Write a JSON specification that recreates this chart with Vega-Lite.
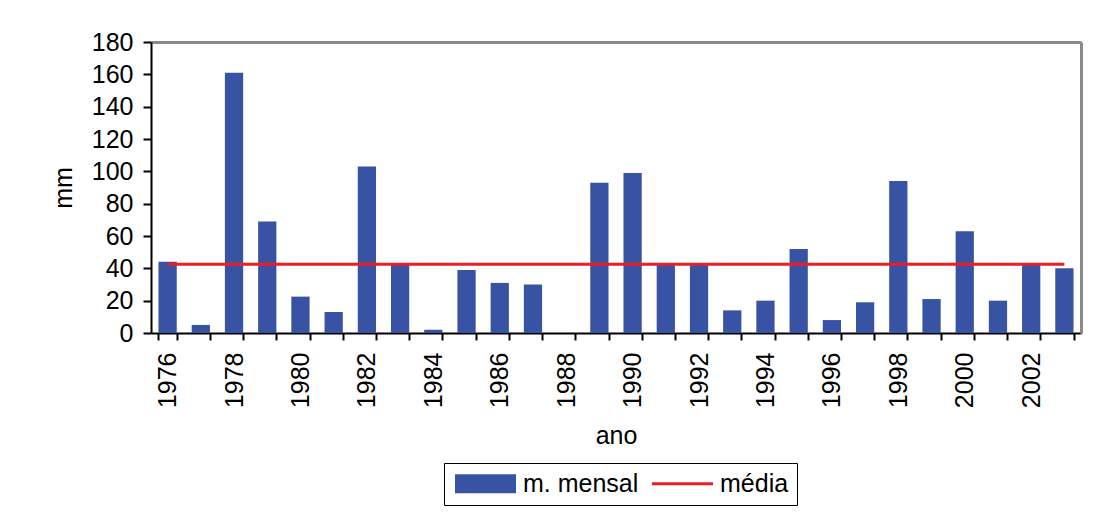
{
  "$schema": "https://vega.github.io/schema/vega-lite/v6.json",
  "width": 930,
  "height": 291,
  "autosize": {"type": "none"},
  "padding": {"left": 151, "top": 42, "right": 23, "bottom": 187},
  "background": "white",
  "config": {
    "view": {"stroke": null},
    "font": "Liberation Sans",
    "axis": {
      "grid": false,
      "domainColor": "black",
      "domainWidth": 2,
      "tickColor": "black",
      "tickWidth": 2,
      "tickSize": 8,
      "labelColor": "black",
      "labelFont": "Liberation Sans",
      "labelFontSize": 25,
      "titleColor": "black",
      "titleFont": "Liberation Sans",
      "titleFontSize": 25,
      "titleFontWeight": "normal"
    }
  },
  "data": {
    "values": [
      {"ano": 1976, "mm": 44, "media": 42.6},
      {"ano": 1977, "mm": 5, "media": 42.6},
      {"ano": 1978, "mm": 161, "media": 42.6},
      {"ano": 1979, "mm": 69, "media": 42.6},
      {"ano": 1980, "mm": 22.5, "media": 42.6},
      {"ano": 1981, "mm": 13, "media": 42.6},
      {"ano": 1982, "mm": 103, "media": 42.6},
      {"ano": 1983, "mm": 42, "media": 42.6},
      {"ano": 1984, "mm": 2, "media": 42.6},
      {"ano": 1985, "mm": 39, "media": 42.6},
      {"ano": 1986, "mm": 31, "media": 42.6},
      {"ano": 1987, "mm": 30, "media": 42.6},
      {"ano": 1988, "mm": 0, "media": 42.6},
      {"ano": 1989, "mm": 93, "media": 42.6},
      {"ano": 1990, "mm": 99, "media": 42.6},
      {"ano": 1991, "mm": 42, "media": 42.6},
      {"ano": 1992, "mm": 42, "media": 42.6},
      {"ano": 1993, "mm": 14, "media": 42.6},
      {"ano": 1994, "mm": 20, "media": 42.6},
      {"ano": 1995, "mm": 52, "media": 42.6},
      {"ano": 1996, "mm": 8, "media": 42.6},
      {"ano": 1997, "mm": 19, "media": 42.6},
      {"ano": 1998, "mm": 94, "media": 42.6},
      {"ano": 1999, "mm": 21, "media": 42.6},
      {"ano": 2000, "mm": 63, "media": 42.6},
      {"ano": 2001, "mm": 20, "media": 42.6},
      {"ano": 2002, "mm": 42, "media": 42.6},
      {"ano": 2003, "mm": 40, "media": 42.6}
    ]
  },
  "resolve": {"axis": {"x": "independent", "y": "independent"}},
  "layer": [
    {
      "mark": {"type": "bar"},
      "encoding": {
        "x": {
          "field": "ano",
          "type": "ordinal",
          "scale": {"paddingInner": 0.45, "paddingOuter": 0.225},
          "axis": {
            "title": "ano",
            "orient": "bottom",
            "tickBand": "extent",
            "labelAngle": -90,
            "labelAlign": "right",
            "labelBaseline": "middle",
            "labelPadding": 12,
            "tickSize": 7,
            "titlePadding": 16,
            "labelExpr": "datum.value % 2 == 0 ? datum.label : ''"
          }
        },
        "y": {
          "field": "mm",
          "type": "quantitative",
          "scale": {"domain": [0, 180]},
          "axis": {
            "title": "mm",
            "orient": "left",
            "values": [0, 20, 40, 60, 80, 100, 120, 140, 160, 180],
            "labelPadding": 10,
            "titlePadding": 15
          }
        },
        "color": {
          "datum": "m. mensal",
          "scale": {"domain": ["m. mensal", "média"], "range": ["#3953a4", "#ee1c24"]},
          "legend": {
            "title": null,
            "orient": "none",
            "legendX": 293,
            "legendY": 421,
            "direction": "horizontal",
            "strokeColor": "black",
            "padding": 8,
            "symbolSize": 361,
            "symbolStrokeWidth": 0,
            "labelFont": "Liberation Sans",
            "labelFontSize": 25,
            "labelColor": "black",
            "labelOffset": 46,
            "columnPadding": 10,
            "encode": {
              "symbols": {
                "enter": {
                  "shape": {"signal": "datum.value == 'média' ? 'M-1,-0.16H5.42V0.16H-1Z' : 'M-1,-1H5.42V1H-1Z'"}
                },
                "update": {
                  "shape": {"signal": "datum.value == 'média' ? 'M-1,-0.16H5.42V0.16H-1Z' : 'M-1,-1H5.42V1H-1Z'"},
                  "fill": {"signal": "datum.value == 'média' ? '#ee1c24' : '#3953a4'"},
                  "fillOpacity": {"value": 1},
                  "strokeWidth": {"value": 0}
                }
              }
            }
          }
        }
      }
    },
    {
      "mark": {"type": "line", "strokeWidth": 3},
      "encoding": {
        "x": {
          "field": "ano",
          "type": "ordinal",
          "axis": {"orient": "top", "title": null, "labels": false, "ticks": false, "domainColor": "#8a8a8a", "domainWidth": 3}
        },
        "y": {
          "field": "media",
          "type": "quantitative",
          "axis": {"orient": "right", "title": null, "labels": false, "ticks": false, "domainColor": "#8a8a8a", "domainWidth": 3}
        },
        "color": {"datum": "média"}
      }
    }
  ]
}
